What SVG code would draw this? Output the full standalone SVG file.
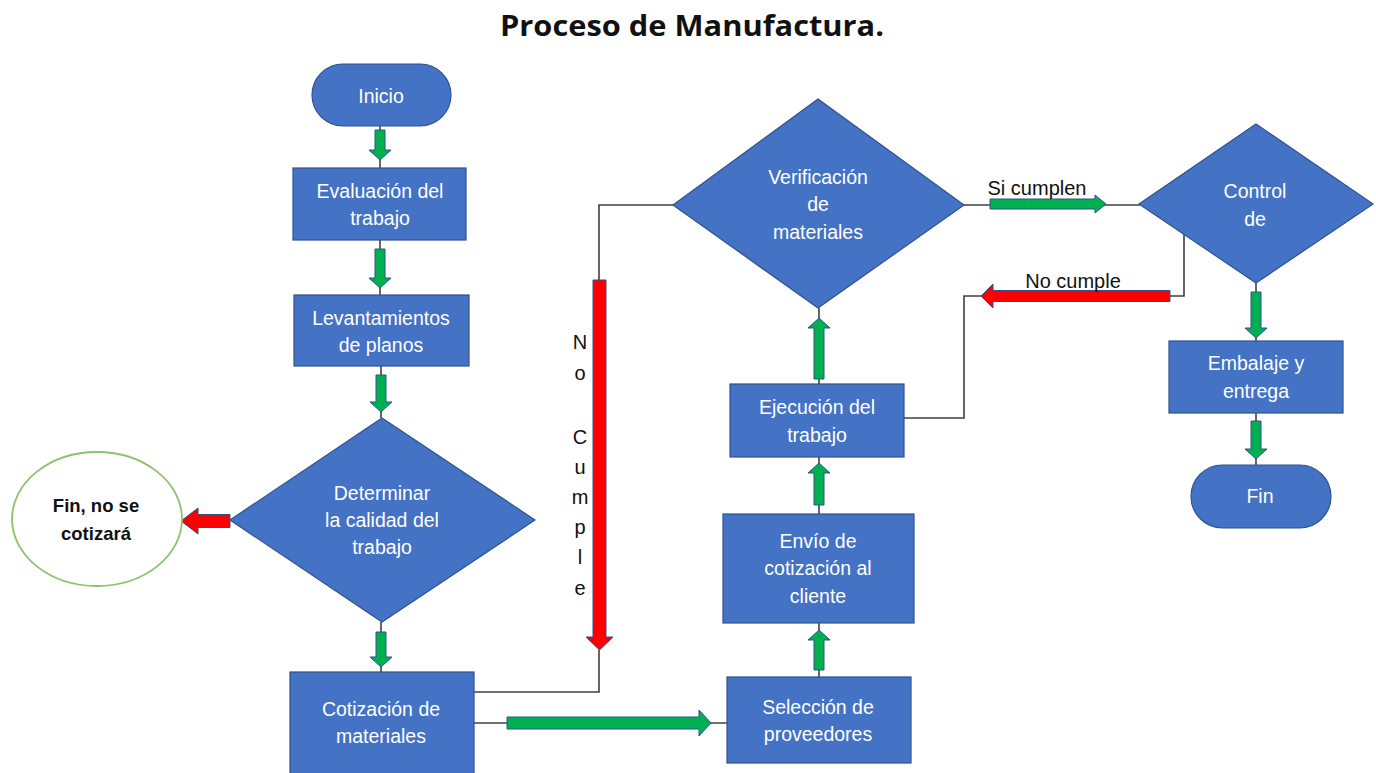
<svg xmlns="http://www.w3.org/2000/svg" width="1376" height="773" viewBox="0 0 1376 773">
  <style>
    .box { fill: #4472C4; stroke: #2F528F; stroke-width: 1.2; }
    .lbl { font-family: "Liberation Sans", Arial, sans-serif; font-size: 19.5px; fill: #FFFFFF; text-anchor: middle; }
    .note { font-family: "Liberation Sans", Arial, sans-serif; font-size: 20px; fill: #111111; text-anchor: middle; }
    .conn { fill: none; stroke: #404040; stroke-width: 1.6; }
    .go { fill: #00B050; stroke: #2F528F; stroke-width: 1; }
    .stop { fill: #FF0000; stroke: #2F528F; stroke-width: 1; }
  </style>

  <rect width="1376" height="773" fill="#FFFFFF"/>

  <text x="692" y="36" font-family="'Open Sans', 'Liberation Sans', sans-serif" font-size="28" font-weight="bold" fill="#111111" text-anchor="middle" textLength="384" lengthAdjust="spacingAndGlyphs">Proceso de Manufactura.</text>

  <!-- connector lines and block arrows -->
  <g id="connectors">
    <path class="conn" d="M380,126 V168"/>
    <path class="conn" d="M380,240 V295"/>
    <path class="conn" d="M381,366 V418"/>
    <path class="conn" d="M381,622 V672"/>
    <path class="conn" d="M474,692 H599 V650"/>
    <path class="conn" d="M599,280 V205 H673"/>
    <path class="conn" d="M474,723 H727"/>
    <path class="conn" d="M819,677 V623"/>
    <path class="conn" d="M819,514 V457"/>
    <path class="conn" d="M819,384 V308"/>
    <path class="conn" d="M964,205 H1140"/>
    <path class="conn" d="M1256,283 V341"/>
    <path class="conn" d="M1256,413 V465"/>
    <path class="conn" d="M1184,234 V296 H1170"/>
    <path class="conn" d="M981,296 H964 V418 H904"/>

    <!-- green arrows, downward -->
    <polygon class="go" points="375,130 385,130 385,150 391,150 380,160 369,150 375,150"/>
    <polygon class="go" points="375,249 385,249 385,278 391,278 380,288 369,278 375,278"/>
    <polygon class="go" points="376,375 386,375 386,402 392,402 381,412 370,402 376,402"/>
    <polygon class="go" points="376,632 386,632 386,657 392,657 381,667 370,657 376,657"/>
    <polygon class="go" points="1251,292 1261,292 1261,328 1267,328 1256,338 1245,328 1251,328"/>
    <polygon class="go" points="1251,421 1261,421 1261,449 1267,449 1256,459 1245,449 1251,449"/>

    <!-- green arrows, upward -->
    <polygon class="go" points="814,379 824,379 824,328 830,328 819,318 808,328 814,328"/>
    <polygon class="go" points="814,505 824,505 824,473 830,473 819,463 808,473 814,473"/>
    <polygon class="go" points="814,670 824,670 824,640 830,640 819,630 808,640 814,640"/>

    <!-- green arrows, horizontal -->
    <polygon class="go" points="507,717 699,717 699,710 711,723 699,736 699,729 507,729"/>
    <polygon class="go" points="990,199 1095,199 1095,195 1106,204 1095,213 1095,209 990,209"/>

    <!-- red arrows -->
    <polygon class="stop" points="230,514.5 198,514.5 198,508 181,521 198,534 198,527.5 230,527.5"/>
    <polygon class="stop" points="1170,290.5 993,290.5 993,284 981,296 993,308 993,301.5 1170,301.5"/>
    <polygon class="stop" points="593,280 606,280 606,637 613,637 599.5,650 586,637 593,637"/>

    <text class="note" x="1037" y="195">Si cumplen</text>
    <text class="note" x="1073" y="288">No cumple</text>
    <g>
      <text class="note" x="580" y="349">N</text>
      <text class="note" x="580" y="380">o</text>
      <text class="note" x="580" y="444">C</text>
      <text class="note" x="580" y="474">u</text>
      <text class="note" x="580" y="504">m</text>
      <text class="note" x="580" y="534">p</text>
      <text class="note" x="580" y="564">l</text>
      <text class="note" x="580" y="595">e</text>
    </g>
  </g>

  <g id="inicio">
    <rect class="box" x="312" y="64" width="139" height="62" rx="31"/>
    <text class="lbl" x="381" y="103">Inicio</text>
  </g>

  <g id="evaluacion">
    <rect class="box" x="293" y="168" width="173" height="72"/>
    <text class="lbl" x="380" y="198">Evaluación del</text>
    <text class="lbl" x="380" y="225">trabajo</text>
  </g>

  <g id="levantamientos">
    <rect class="box" x="294" y="295" width="175" height="71"/>
    <text class="lbl" x="381" y="325">Levantamientos</text>
    <text class="lbl" x="381" y="352">de planos</text>
  </g>

  <g id="determinar">
    <polygon class="box" points="382,418 535,520 382,622 230,520"/>
    <text class="lbl" x="382" y="500">Determinar</text>
    <text class="lbl" x="382" y="527">la calidad del</text>
    <text class="lbl" x="382" y="554">trabajo</text>
  </g>

  <g id="fin-no-cotiza">
    <ellipse cx="97" cy="519" rx="85" ry="67" fill="#FFFFFF" stroke="#8CC36A" stroke-width="1.8"/>
    <text x="96" y="512" font-family="'Liberation Sans', Arial, sans-serif" font-size="18.5" font-weight="bold" fill="#111111" text-anchor="middle">Fin, no se</text>
    <text x="96" y="540" font-family="'Liberation Sans', Arial, sans-serif" font-size="18.5" font-weight="bold" fill="#111111" text-anchor="middle">cotizará</text>
  </g>

  <g id="cotizacion">
    <rect class="box" x="290" y="672" width="184" height="106"/>
    <text class="lbl" x="381" y="716">Cotización de</text>
    <text class="lbl" x="381" y="743">materiales</text>
  </g>

  <g id="seleccion">
    <rect class="box" x="727" y="677" width="184" height="86"/>
    <text class="lbl" x="818" y="714">Selección de</text>
    <text class="lbl" x="818" y="741">proveedores</text>
  </g>

  <g id="envio">
    <rect class="box" x="723" y="514" width="191" height="109"/>
    <text class="lbl" x="818" y="548">Envío de</text>
    <text class="lbl" x="818" y="575">cotización al</text>
    <text class="lbl" x="818" y="603">cliente</text>
  </g>

  <g id="ejecucion">
    <rect class="box" x="730" y="384" width="174" height="73"/>
    <text class="lbl" x="817" y="414">Ejecución del</text>
    <text class="lbl" x="817" y="442">trabajo</text>
  </g>

  <g id="verificacion">
    <polygon class="box" points="818,99 964,205 818,308 673,205"/>
    <text class="lbl" x="818" y="184">Verificación</text>
    <text class="lbl" x="818" y="211">de</text>
    <text class="lbl" x="818" y="239">materiales</text>
  </g>

  <g id="control">
    <polygon class="box" points="1256,124 1373,204 1256,283 1139,204"/>
    <text class="lbl" x="1255" y="198">Control</text>
    <text class="lbl" x="1255" y="226">de</text>
  </g>

  <g id="embalaje">
    <rect class="box" x="1169" y="341" width="174" height="72"/>
    <text class="lbl" x="1256" y="370">Embalaje y</text>
    <text class="lbl" x="1256" y="398">entrega</text>
  </g>

  <g id="fin">
    <rect class="box" x="1191" y="465" width="140" height="63" rx="31.5"/>
    <text class="lbl" x="1260" y="503">Fin</text>
  </g>
</svg>
